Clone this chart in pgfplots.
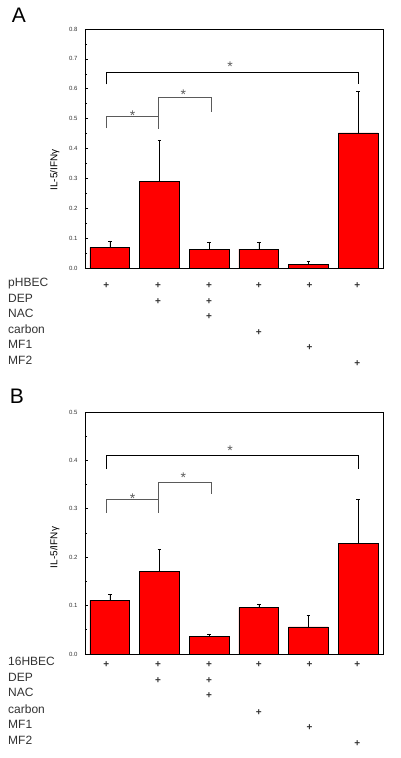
\documentclass[border=0pt]{standalone}
\usepackage{fontspec}
\setmainfont{Liberation Sans}
\usepackage{pgfplots}
\pgfplotsset{compat=1.18}
\usetikzlibrary{plotmarks}
\definecolor{barred}{RGB}{255,0,0}
\definecolor{brk}{RGB}{90,90,90}
\definecolor{txt}{RGB}{50,50,50}
\pgfplotsset{
 panel/.style={
  scale only axis, width=298pt, anchor=south west,
  xmin=-0.5, xmax=5.5, ymin=0,
  axis line style={line width=0.8pt},
  xtick=\empty, ytick pos=left, tick align=inside,
  minor y tick num=1,
  major tick length=3pt, minor tick length=2pt,
  every tick/.style={black, line width=0.6pt},
  yticklabel style={font=\fontsize{6}{7}\selectfont, text=txt, xshift=-4pt},
  /pgf/number format/fixed, /pgf/number format/fixed zerofill,
  /pgf/number format/precision=1, /pgf/number format/assume math mode=true,
  clip=false,
  ylabel style={font=\fontsize{12}{14}\selectfont, text=txt},
 },
 bars/.style={ybar, bar width=0.8, fill=barred, draw=black, line width=0.6pt,
  error bars/.cd, y dir=plus, y explicit,
  error bar style={black, line width=0.6pt},
  error mark options={rotate=90, mark size=1.8pt, line width=0.6pt, black}},
 pmark/.style={only marks, mark=text, mark options={yshift=-2pt},
  text mark={\textcolor{txt}{\fontsize{10}{12}\selectfont\bfseries +}}},
}
\newcommand{\rowlab}[2]{\node[anchor=mid west, font=\fontsize{12}{14}\selectfont, text=txt, inner sep=0pt] at (axis cs:-2.05,#1) {#2};}
\newcommand{\sigstar}[2]{\node[font=\fontsize{14}{16}\selectfont, text=brk, inner sep=0pt, yshift=-3pt] at (axis cs:#1,#2) {*};}
\begin{document}
\begin{tikzpicture}
\path[use as bounding box] (0,0) rectangle (400pt,758pt);
\node[font=\fontsize{21}{24}\selectfont] at (19pt,743pt) {A};
\node[font=\fontsize{21}{24}\selectfont] at (17pt,362pt) {B};
% Panel A
\begin{axis}[panel, at={(85pt,490pt)}, height=239pt, ymax=0.8, ytick distance=0.1,
  ylabel={IL-5/IFNγ},
  every axis y label/.style={at={(axis description cs:-0.101,0.41)}, rotate=90, anchor=center}]
\addplot[bars] coordinates {
 (0,0.069) +- (0,0.022)
 (1,0.291) +- (0,0.136)
 (2,0.063) +- (0,0.022)
 (3,0.063) +- (0,0.022)
 (4,0.012) +- (0,0.011)
 (5,0.452) +- (0,0.140)
};
\addplot[black, line width=0.8pt] coordinates {(-0.06,0.615) (-0.06,0.655) (5,0.655) (5,0.615)};
\addplot[brk, line width=0.8pt] coordinates {(-0.06,0.468) (-0.06,0.509) (0.97,0.509) (0.97,0.464)};
\addplot[brk, line width=0.8pt] coordinates {(0.97,0.509) (0.97,0.570) (2.05,0.570) (2.05,0.523)};
\sigstar{2.42}{0.685}
\sigstar{0.46}{0.52}
\sigstar{1.48}{0.59}
\addplot[pmark] coordinates {
 (-0.07,-0.0536) (0.97,-0.0536) (2,-0.0536) (3,-0.0536) (4.02,-0.0536) (4.98,-0.0536)
 (0.97,-0.1071) (2,-0.1071)
 (2,-0.1573)
 (3,-0.2109)
 (4.02,-0.2611)
 (4.98,-0.3146)
};
\rowlab{-0.0536}{pHBEC}
\rowlab{-0.1071}{DEP}
\rowlab{-0.1573}{NAC}
\rowlab{-0.2109}{carbon}
\rowlab{-0.2611}{MF1}
\rowlab{-0.3146}{MF2}
\end{axis}
% Panel B
\begin{axis}[panel, at={(85pt,104pt)}, height=242pt, ymax=0.5, ytick distance=0.1,
  ylabel={IL-5/IFNγ},
  every axis y label/.style={at={(axis description cs:-0.101,0.44)}, rotate=90, anchor=center}]
\addplot[bars] coordinates {
 (0,0.111) +- (0,0.012)
 (1,0.171) +- (0,0.045)
 (2,0.036) +- (0,0.005)
 (3,0.096) +- (0,0.007)
 (4,0.056) +- (0,0.024)
 (5,0.229) +- (0,0.090)
};
\addplot[black, line width=0.8pt] coordinates {(-0.06,0.382) (-0.06,0.41) (5,0.41) (5,0.382)};
\addplot[brk, line width=0.8pt] coordinates {(-0.06,0.292) (-0.06,0.32) (0.97,0.32) (0.97,0.292)};
\addplot[brk, line width=0.8pt] coordinates {(0.97,0.32) (0.97,0.355) (2.05,0.355) (2.05,0.33)};
\sigstar{2.42}{0.426}
\sigstar{0.46}{0.328}
\sigstar{1.48}{0.371}
\addplot[pmark] coordinates {
 (-0.07,-0.0186) (0.97,-0.0186) (2,-0.0186) (3,-0.0186) (4.02,-0.0186) (4.98,-0.0186)
 (0.97,-0.0517) (2,-0.0517)
 (2,-0.0826)
 (3,-0.1178)
 (4.02,-0.1488)
 (4.98,-0.1818)
};
\rowlab{-0.0186}{16HBEC}
\rowlab{-0.0517}{DEP}
\rowlab{-0.0826}{NAC}
\rowlab{-0.1178}{carbon}
\rowlab{-0.1488}{MF1}
\rowlab{-0.1818}{MF2}
\end{axis}
\end{tikzpicture}
\end{document}
